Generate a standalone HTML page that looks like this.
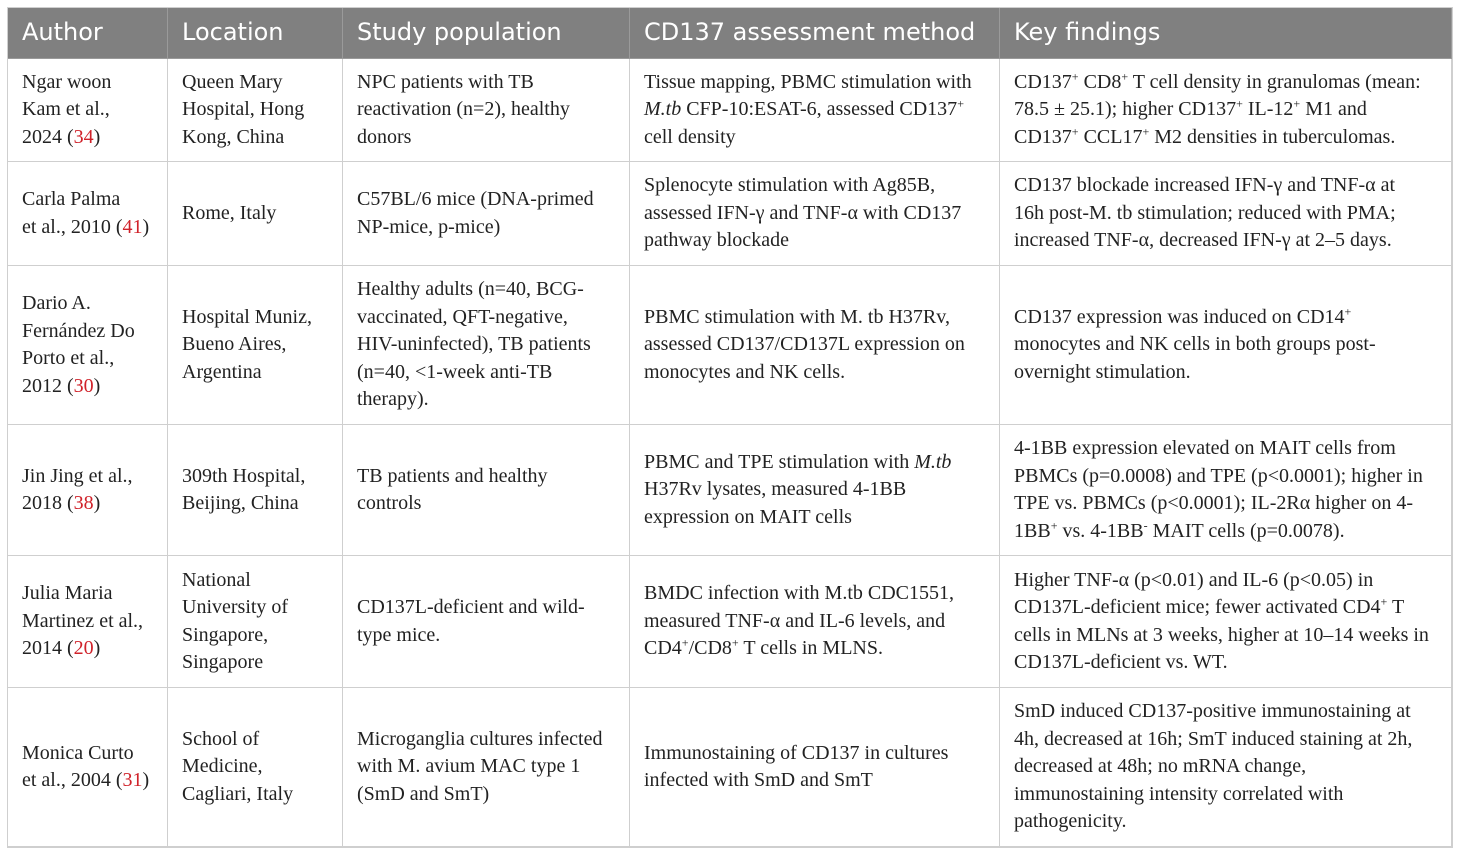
<!DOCTYPE html>
<html><head><meta charset="utf-8"><style>
body{margin:0;width:1460px;height:854px;background:#fff;position:relative;overflow:hidden}
.c{position:absolute;box-sizing:border-box;display:flex;align-items:center;padding:0 14px;border-right:1.5px solid #cfcfcf;border-bottom:1.5px solid #cfcfcf;font-family:"Liberation Serif",serif;font-size:20px;line-height:27.5px;color:#222;white-space:nowrap;overflow:hidden}
.h{background:#808080;color:#fff;font-family:"DejaVu Sans","Liberation Sans",sans-serif;font-size:24px;border-color:#9a9a9a}
.r{color:#d0222a}
sup{font-size:12px;line-height:0}
</style></head><body>
<div style="position:absolute;left:7px;top:7px;width:1446px;height:841px;border:1.5px solid #cfcfcf;box-sizing:border-box"></div>
<div id="t"></div>
<script>
const cols=[8,168,343,630,1000,1452];
const rows=[8,59,162,266,425,556,688,847];
const cells=[
["Author","Location","Study population","CD137 assessment method","Key findings"],
["Ngar woon<br>Kam et al.,<br>2024 (<span class=r>34</span>)","Queen Mary<br>Hospital, Hong<br>Kong, China","NPC patients with TB<br>reactivation (n=2), healthy<br>donors","Tissue mapping, PBMC stimulation with<br><i>M.tb</i> CFP-10:ESAT-6, assessed CD137<sup>+</sup><br>cell density","CD137<sup>+</sup> CD8<sup>+</sup> T cell density in granulomas (mean:<br>78.5 ± 25.1); higher CD137<sup>+</sup> IL-12<sup>+</sup> M1 and<br>CD137<sup>+</sup> CCL17<sup>+</sup> M2 densities in tuberculomas."],
["Carla Palma<br>et al., 2010 (<span class=r>41</span>)","Rome, Italy","C57BL/6 mice (DNA-primed<br>NP-mice, p-mice)","Splenocyte stimulation with Ag85B,<br>assessed IFN-γ and TNF-α with CD137<br>pathway blockade","CD137 blockade increased IFN-γ and TNF-α at<br>16h post-M. tb stimulation; reduced with PMA;<br>increased TNF-α, decreased IFN-γ at 2–5 days."],
["Dario A.<br>Fernández Do<br>Porto et al.,<br>2012 (<span class=r>30</span>)","Hospital Muniz,<br>Bueno Aires,<br>Argentina","Healthy adults (n=40, BCG-<br>vaccinated, QFT-negative,<br>HIV-uninfected), TB patients<br>(n=40, &lt;1-week anti-TB<br>therapy).","PBMC stimulation with M. tb H37Rv,<br>assessed CD137/CD137L expression on<br>monocytes and NK cells.","CD137 expression was induced on CD14<sup>+</sup><br>monocytes and NK cells in both groups post-<br>overnight stimulation."],
["Jin Jing et al.,<br>2018 (<span class=r>38</span>)","309th Hospital,<br>Beijing, China","TB patients and healthy<br>controls","PBMC and TPE stimulation with <i>M.tb</i><br>H37Rv lysates, measured 4-1BB<br>expression on MAIT cells","4-1BB expression elevated on MAIT cells from<br>PBMCs (p=0.0008) and TPE (p&lt;0.0001); higher in<br>TPE vs. PBMCs (p&lt;0.0001); IL-2Rα higher on 4-<br>1BB<sup>+</sup> vs. 4-1BB<sup>-</sup> MAIT cells (p=0.0078)."],
["Julia Maria<br>Martinez et al.,<br>2014 (<span class=r>20</span>)","National<br>University of<br>Singapore,<br>Singapore","CD137L-deficient and wild-<br>type mice.","BMDC infection with M.tb CDC1551,<br>measured TNF-α and IL-6 levels, and<br>CD4<sup>+</sup>/CD8<sup>+</sup> T cells in MLNS.","Higher TNF-α (p&lt;0.01) and IL-6 (p&lt;0.05) in<br>CD137L-deficient mice; fewer activated CD4<sup>+</sup> T<br>cells in MLNs at 3 weeks, higher at 10–14 weeks in<br>CD137L-deficient vs. WT."],
["Monica Curto<br>et al., 2004 (<span class=r>31</span>)","School of<br>Medicine,<br>Cagliari, Italy","Microganglia cultures infected<br>with M. avium MAC type 1<br>(SmD and SmT)","Immunostaining of CD137 in cultures<br>infected with SmD and SmT","SmD induced CD137-positive immunostaining at<br>4h, decreased at 16h; SmT induced staining at 2h,<br>decreased at 48h; no mRNA change,<br>immunostaining intensity correlated with<br>pathogenicity."]
];
const names=["author","location","study-population","assessment-method","key-findings"];
const t=document.getElementById('t');
cells.forEach((row,i)=>row.forEach((txt,j)=>{
 const d=document.createElement('div');
 d.className='c'+(i==0?' h':'');
 d.style.left=cols[j]+'px';d.style.top=rows[i]+'px';
 d.style.width=(cols[j+1]-cols[j])+'px';d.style.height=(rows[i+1]-rows[i])+'px';
 const inner=document.createElement('div');
 inner.innerHTML=txt;
 d.appendChild(inner);
 
 
 t.appendChild(d);
}));
</script>
</body></html>
